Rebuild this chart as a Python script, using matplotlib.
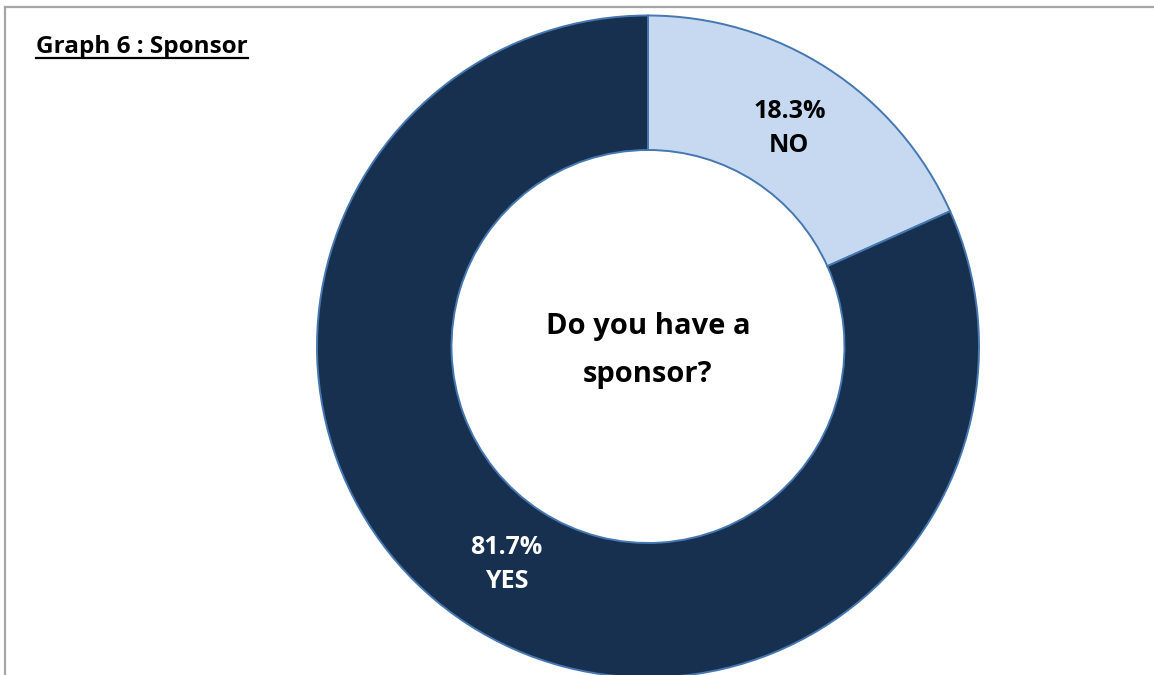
import numpy as np
import matplotlib
matplotlib.use("Agg")
import matplotlib.pyplot as plt
from matplotlib.lines import Line2D

# Survey answers to "Do you have a sponsor?"
answers = ["NO", "YES"]
shares = [18.3, 81.7]
label_colors = ["#000000", "#ffffff"]

title_text = "Graph 6 : Sponsor"
center_text = "Do you have a\nsponsor?"

W, H = 1154, 675
fig = plt.figure(figsize=(W / 100, H / 100), dpi=100)
fig.patch.set_facecolor("white")

font = ["Open Sans", "DejaVu Sans"]

# Donut placement in pixels
cx, cy, r_out, r_in = 648, 346.5, 331, 196.5
ax = fig.add_axes([(cx - r_out) / W, (H - cy - r_out) / H, 2 * r_out / W, 2 * r_out / H])

wedges, _ = ax.pie(
    shares,
    colors=["#c6d9f1", "#17304f"],
    startangle=90,
    counterclock=False,
    radius=1.0,
    wedgeprops=dict(width=1 - r_in / r_out, edgecolor="#4577b0", linewidth=1.4),
)
ax.set_xlim(-1, 1)
ax.set_ylim(-1, 1)
ax.set_aspect("equal")
ax.axis("off")

# Value labels placed at each wedge's mid-angle
total = sum(shares)
start = 90.0
for share, name, col in zip(shares, answers, label_colors):
    span = share / total * 360
    mid = np.deg2rad(start - span / 2)
    start -= span
    rr = 0.785
    ax.text(rr * np.cos(mid), rr * np.sin(mid), f"{share:.1f}%\n{name}",
            ha="center", va="center", color=col, fontsize=18,
            fontweight="bold", family=font, linespacing=1.5)

ax.text(0, -0.012, center_text, ha="center", va="center", fontsize=21,
        fontweight="bold", family=font, linespacing=1.9, color="#000000")

# Frame lines along the top and left edges
fig.add_artist(Line2D([4.5 / W, 1.0], [1 - 6.5 / H, 1 - 6.5 / H], color="#a6a6a6", lw=1.6))
fig.add_artist(Line2D([4.5 / W, 4.5 / W], [0, 1 - 6.5 / H], color="#a6a6a6", lw=1.6))

# Underlined title
t = fig.text(36 / W, 1 - 47 / H, title_text, ha="left", va="center",
             fontsize=17.5, fontweight="bold", family=font, color="#000000")
fig.canvas.draw()
bb = t.get_window_extent(renderer=fig.canvas.get_renderer())
uy = (bb.y0 + 1) / H
fig.add_artist(Line2D([bb.x0 / W, bb.x1 / W], [uy, uy], color="#000000", lw=1.6))

fig.savefig("out.png", dpi=100)
